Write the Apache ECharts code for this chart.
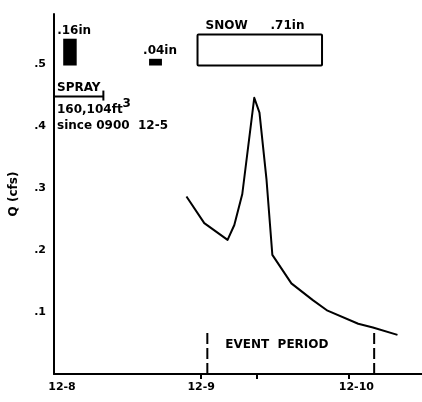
<!DOCTYPE html>
<html>
<head>
<meta charset="utf-8">
<script src="https://cdn.jsdelivr.net/npm/echarts@6/dist/echarts.min.js"></script>
<style>
  html, body { margin: 0; padding: 0; background: #fff; }
  #chart { width: 422px; height: 402px; }
</style>
</head>
<body>
<div id="chart"></div>
<script>
// Discharge hydrograph; x values are hours after 12-8 0000
const hours = [21.6, 24.5, 28.3, 29.4, 30.7, 32.65, 33.5, 34.65, 35.6, 38.7, 42.2, 44.6, 49.6, 52.0, 56.0];
const discharge = [0.286, 0.243, 0.216, 0.240, 0.290, 0.445, 0.421, 0.313, 0.192, 0.146, 0.119, 0.102, 0.081, 0.075, 0.063];

// Axis ticks and labels
const dayTicks = [0, 24, 48];
const dayLabels = ['12-8', '12-9', '12-10'];
const minorDayTicks = [33];
const qTicks = [0.1, 0.2, 0.3, 0.4, 0.5];
const qLabels = ['.1', '.2', '.3', '.4', '.5'];

// Rainfall bursts (hours) and depths (inches)
const rainStart = [1.5, 15.5];
const rainEnd = [3.7, 17.6];
const rainDepth = [0.16, 0.04];
const rainLabels = ['.16in', '.04in'];

// Snowfall period
const snowStart = [23.4];
const snowEnd = [43.7];
const snowLabels = ['SNOW', '.71in'];

// Spray irrigation
const sprayEnd = [8.05];
const sprayLevel = [0.447];
const sprayLabels = ['SPRAY', '160,104ft', '3', 'since 0900  12-5'];

// Event period bounds (hours) and marker height
const eventBounds = [25, 52.2];
const eventTop = [0.07];
const eventLabel = 'EVENT  PERIOD';

const FONT_FAMILY = '"DejaVu Sans", sans-serif';
const FONT = 'bold 12px ' + FONT_FAMILY;
const INK = '#000';
const PRECIP_BASE = 0.497;   // Q level where precipitation bars sit
const INCH_TO_Q = 0.27;      // vertical scale of rain bars
const SNOW_BOX_HEIGHT = 0.05;

const measureCtx = document.createElement('canvas').getContext('2d');
function textWidth(str, font) {
  measureCtx.font = font;
  return measureCtx.measureText(str).width;
}

// per-label nudges for the date labels
const dayLabelStyle = ['first', 'mid', 'last'];

const chart = echarts.init(document.getElementById('chart'), null, { renderer: 'canvas' });

const labelBase = { color: INK, fontFamily: FONT_FAMILY, fontWeight: 'bold', fontSize: 11 };

chart.setOption({
  backgroundColor: '#fff',
  animation: false,
  grid: { left: 54, right: 0, top: 14, bottom: 28 },
  xAxis: [{
    type: 'value',
    min: 0,
    max: 60,
    axisLine: { show: true, onZero: false, lineStyle: { color: INK, width: 2 } },
    axisTick: {
      show: true,
      customValues: dayTicks.slice(1).concat(minorDayTicks),
      length: 5,
      inside: false,
      lineStyle: { color: INK, width: 2 }
    },
    axisLabel: Object.assign({
      customValues: dayTicks,
      formatter: v => {
        const i = dayTicks.indexOf(v);
        return '{' + dayLabelStyle[i] + '|' + dayLabels[i] + '}';
      },
      margin: 8,
      rich: {
        first: Object.assign({ padding: [0, 0, 0, 16] }, labelBase),
        mid: Object.assign({}, labelBase),
        last: Object.assign({ padding: [0, 0, 0, 16] }, labelBase)
      }
    }, labelBase),
    splitLine: { show: false }
  }],
  yAxis: [{
    type: 'value',
    min: 0,
    max: 0.58,
    name: 'Q (cfs)',
    nameLocation: 'middle',
    nameRotate: 90,
    nameGap: 34,
    nameTextStyle: { color: INK, fontFamily: FONT_FAMILY, fontWeight: 'bold', fontSize: 12 },
    axisLine: { show: true, onZero: false, lineStyle: { color: INK, width: 2 } },
    axisTick: { show: false },
    axisLabel: Object.assign({
      customValues: qTicks,
      formatter: v => qLabels[qTicks.indexOf(v)],
      margin: 8,
      padding: [6, 0, 0, 0]
    }, labelBase),
    splitLine: { show: false }
  }],
  series: [
    {
      name: 'Q',
      type: 'line',
      data: hours.map((h, i) => [h, discharge[i]]),
      showSymbol: false,
      lineStyle: { color: INK, width: 2, join: 'round' },
      z: 5
    },
    {
      name: 'rain',
      type: 'custom',
      data: rainStart.map((s, i) => [s, rainEnd[i], rainDepth[i]]),
      renderItem(params, api) {
        const top = api.coord([api.value(0), PRECIP_BASE + api.value(2) * INCH_TO_Q]);
        const bottom = api.coord([api.value(1), PRECIP_BASE]);
        return {
          type: 'group',
          children: [
            { type: 'rect', shape: { x: top[0], y: top[1], width: bottom[0] - top[0], height: bottom[1] - top[1] }, style: { fill: INK } },
            { type: 'text', x: top[0] - 6, y: top[1] - 2, style: { text: rainLabels[params.dataIndex], font: FONT, fill: INK, align: 'left', verticalAlign: 'bottom' } }
          ]
        };
      }
    },
    {
      name: 'snow',
      type: 'custom',
      data: snowStart.map((s, i) => [s, snowEnd[i]]),
      renderItem(params, api) {
        const top = api.coord([api.value(0), PRECIP_BASE + SNOW_BOX_HEIGHT]);
        const bottom = api.coord([api.value(1), PRECIP_BASE]);
        return {
          type: 'group',
          children: [
            { type: 'rect', shape: { x: top[0], y: top[1], width: bottom[0] - top[0], height: bottom[1] - top[1], r: 1 }, style: { fill: null, stroke: INK, lineWidth: 2 } },
            { type: 'text', x: top[0] + 8, y: top[1] - 3, style: { text: snowLabels[0], font: FONT, fill: INK, align: 'left', verticalAlign: 'bottom' } },
            { type: 'text', x: top[0] + 73, y: top[1] - 3, style: { text: snowLabels[1], font: FONT, fill: INK, align: 'left', verticalAlign: 'bottom' } }
          ]
        };
      }
    },
    {
      name: 'spray',
      type: 'custom',
      data: sprayEnd.map((e, i) => [e, sprayLevel[i]]),
      renderItem(params, api) {
        const start = api.coord([0, api.value(1)]);
        const end = api.coord([api.value(0), api.value(1)]);
        const x0 = start[0] + 3;
        const mainW = textWidth(sprayLabels[1], FONT);
        return {
          type: 'group',
          children: [
            { type: 'line', shape: { x1: start[0], y1: start[1], x2: end[0], y2: end[1] }, style: { stroke: INK, lineWidth: 2 } },
            { type: 'line', shape: { x1: end[0], y1: end[1] - 6, x2: end[0], y2: end[1] + 4 }, style: { stroke: INK, lineWidth: 2 } },
            { type: 'text', x: x0, y: end[1] - 3, style: { text: sprayLabels[0], font: FONT, fill: INK, align: 'left', verticalAlign: 'bottom' } },
            { type: 'text', x: x0, y: end[1] + 13, style: { text: sprayLabels[1], font: FONT, fill: INK, align: 'left', verticalAlign: 'middle' } },
            { type: 'text', x: x0 + mainW, y: end[1] + 7, style: { text: sprayLabels[2], font: FONT, fill: INK, align: 'left', verticalAlign: 'middle' } },
            { type: 'text', x: x0, y: end[1] + 29, style: { text: sprayLabels[3], font: FONT, fill: INK, align: 'left', verticalAlign: 'middle' } }
          ]
        };
      }
    },
    {
      name: 'event',
      type: 'custom',
      data: eventBounds.map(b => [b, eventTop[0]]),
      renderItem(params, api) {
        const base = api.coord([api.value(0), 0]);
        const top = api.coord([api.value(0), api.value(1)]);
        const children = [
          { type: 'line', shape: { x1: base[0], y1: base[1], x2: top[0], y2: top[1] }, style: { stroke: INK, lineWidth: 2, lineDash: [11, 4] } }
        ];
        if (params.dataIndex === 0) {
          const mid = api.coord([api.value(0), api.value(1) * 0.67]);
          children.push({ type: 'text', x: base[0] + 18, y: mid[1], style: { text: eventLabel, font: FONT, fill: INK, align: 'left', verticalAlign: 'middle' } });
        }
        return { type: 'group', children };
      }
    }
  ]
});
</script>
</body>
</html>
